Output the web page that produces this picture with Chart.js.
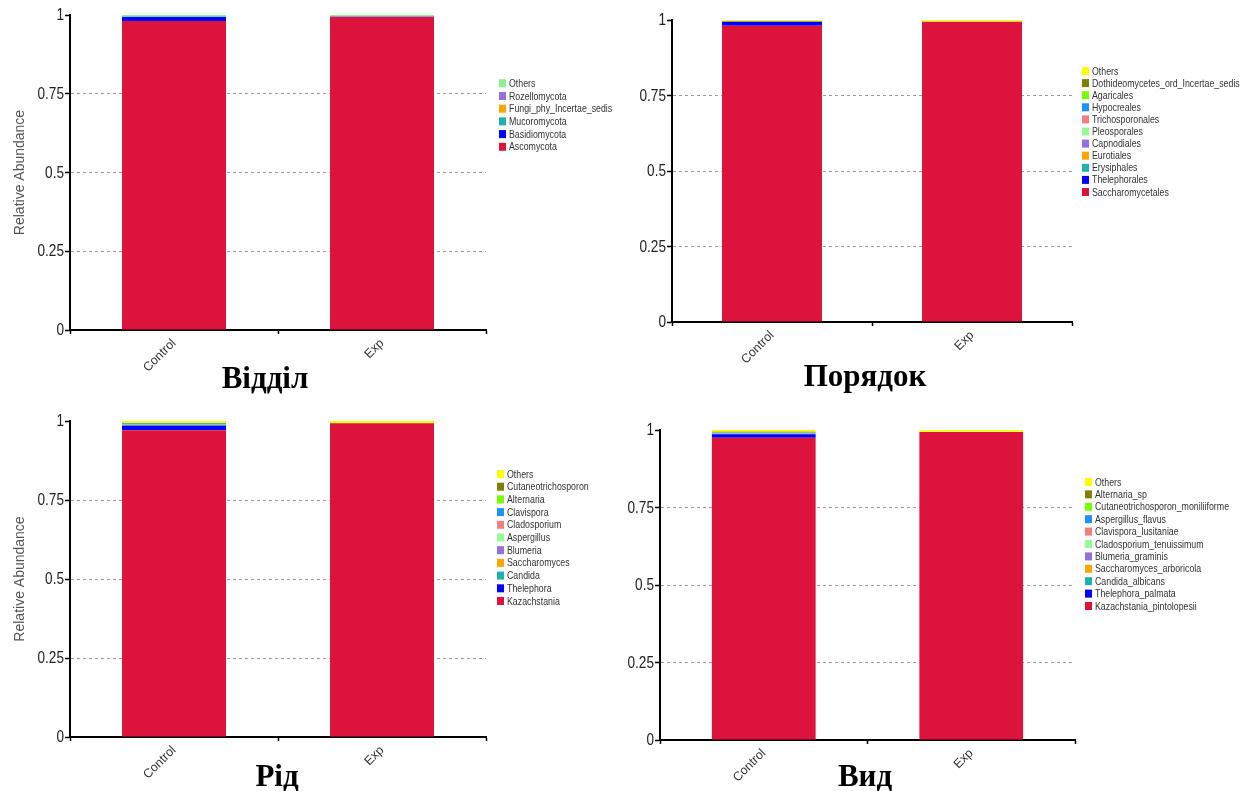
<!DOCTYPE html>
<html><head><meta charset="utf-8">
<script src="https://cdn.jsdelivr.net/npm/chart.js@4.4.0/dist/chart.umd.min.js"></script>
<style>
html,body{margin:0;padding:0;background:#fff;}
#wrap{position:relative;width:1240px;height:791px;overflow:hidden;background:#fff;}
canvas{position:absolute;}
.ttl{position:absolute;font-family:"Liberation Serif","Times New Roman",serif;font-weight:bold;font-size:31px;line-height:32px;color:#000;white-space:nowrap;transform:translateX(-50%);}
</style></head><body>
<div id="wrap">
<canvas id="c1" width="620" height="395" style="left:0;top:0"></canvas>
<canvas id="c2" width="620" height="395" style="left:620px;top:0"></canvas>
<canvas id="c3" width="620" height="391" style="left:0;top:400px"></canvas>
<canvas id="c4" width="620" height="391" style="left:620px;top:400px"></canvas>
<div class="ttl" style="left:265px;top:362px">Відділ</div>
<div class="ttl" style="left:865px;top:360px">Порядок</div>
<div class="ttl" style="left:277px;top:760px">Рід</div>
<div class="ttl" style="left:865px;top:760px">Вид</div>
</div>
<script>
// ---------- DATA ----------
const categories = ['Control', 'Exp'];
const yTickLabels = ['0', '0.25', '0.5', '0.75', '1'];

// Відділ (phylum) — bottom to top of stack
const phylumNames = ['Ascomycota', 'Basidiomycota', 'Mucoromycota', 'Fungi_phy_Incertae_sedis', 'Rozellomycota', 'Others'];
const phylumControl = [0.981, 0.013, 0.001, 0.0003, 0.0002, 0.0045];
const phylumExp = [0.994, 0.0005, 0.0002, 0.0001, 0.0001, 0.0051];
const phylumColors = ['#DC143C', '#0000FF', '#20B2AA', '#FFA500', '#9370DB', '#90EE90'];

// Порядок (order)
const orderNames = ['Saccharomycetales', 'Thelephorales', 'Erysiphales', 'Eurotiales', 'Capnodiales', 'Pleosporales', 'Trichosporonales', 'Hypocreales', 'Agaricales', 'Dothideomycetes_ord_Incertae_sedis', 'Others'];
const orderControl = [0.981, 0.013, 0.0003, 0.0002, 0.0002, 0.0002, 0.0002, 0.0002, 0.0001, 0.0001, 0.0045];
const orderExp = [0.994, 0.0003, 0.0001, 0.0001, 0.0001, 0.0001, 0.0001, 0.0001, 0.0001, 0.0001, 0.0049];
const orderColors = ['#DC143C', '#0000FF', '#20B2AA', '#FFA500', '#9370DB', '#98FB98', '#F08080', '#1E90FF', '#7CFC00', '#808000', '#FFFF00'];

// Рід (genus)
const genusNames = ['Kazachstania', 'Thelephora', 'Candida', 'Saccharomyces', 'Blumeria', 'Aspergillus', 'Cladosporium', 'Clavispora', 'Alternaria', 'Cutaneotrichosporon', 'Others'];
const genusControl = [0.971, 0.014, 0.003, 0.001, 0.0005, 0.0005, 0.0005, 0.002, 0.0005, 0.0005, 0.0065];
const genusExp = [0.9925, 0.0001, 0.0001, 0.0001, 0.0001, 0.0001, 0.0001, 0.0001, 0.0001, 0.0001, 0.0066];
const genusColors = ['#DC143C', '#0000FF', '#20B2AA', '#FFA500', '#9370DB', '#98FB98', '#F08080', '#1E90FF', '#7CFC00', '#808000', '#FFFF00'];

// Вид (species)
const speciesNames = ['Kazachstania_pintolopesii', 'Thelephora_palmata', 'Candida_albicans', 'Saccharomyces_arboricola', 'Blumeria_graminis', 'Cladosporium_tenuissimum', 'Clavispora_lusitaniae', 'Aspergillus_flavus', 'Cutaneotrichosporon_moniliiforme', 'Alternaria_sp', 'Others'];
const speciesControl = [0.975, 0.011, 0.003, 0.001, 0.0003, 0.0003, 0.0004, 0.002, 0.0005, 0.0005, 0.006];
const speciesExp = [0.9935, 0.0001, 0.0001, 0.0001, 0.0001, 0.0001, 0.0001, 0.0001, 0.0001, 0.0001, 0.0056];
const speciesColors = ['#DC143C', '#0000FF', '#20B2AA', '#FFA500', '#9370DB', '#98FB98', '#F08080', '#1E90FF', '#7CFC00', '#808000', '#FFFF00'];

// ---------- DRAWING ----------
const SANS = '"Liberation Sans", Arial, sans-serif';

// condensed text helper (mimics Arial Narrow)
function narrowText(ctx, txt, x, y, sx) {
  ctx.save();
  ctx.translate(x, y);
  ctx.scale(sx, 1);
  ctx.fillText(txt, 0, 0);
  ctx.restore();
}

const sideLegend = {
  id: 'sideLegend',
  afterDraw(chart, args, o) {
    const ctx = chart.ctx;
    const ds = chart.data.datasets;
    ctx.save();
    ctx.font = '11px ' + SANS;
    ctx.textBaseline = 'middle';
    ctx.textAlign = 'left';
    for (let k = 0; k < ds.length; k++) {
      const d = ds[ds.length - 1 - k];
      const y = o.y + k * o.gap;
      ctx.fillStyle = d.backgroundColor;
      ctx.fillRect(o.x, y - 4, 7, 8);
      ctx.fillStyle = '#333';
      narrowText(ctx, d.label, o.x + 10, y + 0.5, 0.8);
    }
    // y tick labels (condensed), placed through the y scale
    const ys = chart.scales.y;
    ctx.font = '17px ' + SANS;
    ctx.textAlign = 'right';
    ctx.textBaseline = 'middle';
    ctx.fillStyle = '#222';
    ys.ticks.forEach(t => {
      const py = ys.getPixelForValue(t.value);
      narrowText(ctx, yTickLabels[Math.round(t.value / 0.25)], ys.right - 6, py + 0.5, 0.8);
    });
    ctx.restore();
  }
};

function makeChart(id, names, colors, control, exp, g) {
  const datasets = names.map((n, i) => ({
    label: n,
    data: [control[i], exp[i]],
    backgroundColor: colors[i],
    borderWidth: 0,
    barPercentage: 0.5,
    categoryPercentage: 1
  }));
  return new Chart(document.getElementById(id), {
    type: 'bar',
    data: { labels: categories, datasets },
    plugins: [sideLegend],
    options: {
      responsive: false,
      animation: false,
      devicePixelRatio: 1,
      layout: { padding: { left: 0, top: g.top, right: g.W - g.right, bottom: 0 } },
      plugins: {
        legend: { display: false },
        tooltip: { enabled: false },
        sideLegend: { x: g.lx, y: g.ly, gap: g.gap }
      },
      scales: {
        x: {
          stacked: true,
          offset: true,
          grid: { display: true, drawOnChartArea: false, drawTicks: true, tickLength: 4, tickColor: '#000', tickWidth: 1.5, offset: true },
          border: { display: true, color: '#000', width: 2 },
          ticks: { minRotation: 45, maxRotation: 45, autoSkip: false, color: '#333', padding: 2, font: { size: 12.5, family: SANS } },
          afterFit: s => { s.height = g.H - g.bottom; }
        },
        y: {
          stacked: true,
          min: 0, max: 1,
          ticks: { stepSize: 0.25, display: false },
          grid: {
            color: c => (c.tick && (c.tick.value === 0 || c.tick.value === 1)) ? 'rgba(0,0,0,0)' : '#9a9a9a',
            lineWidth: 1,
            tickColor: '#000',
            tickLength: 5,
            tickWidth: 1.5,
            tickBorderDash: []
          },
          border: { display: true, color: '#000', width: 2, dash: [3, 3] },
          title: { display: g.yTitle, text: 'Relative Abundance', color: '#555', padding: { top: 12, bottom: 0 }, font: { size: 14, family: SANS } },
          afterFit: s => { s.width = g.left; }
        }
      }
    }
  });
}

makeChart('c1', phylumNames, phylumColors, phylumControl, phylumExp,
  { W: 620, H: 395, left: 70, top: 15, right: 486, bottom: 330, lx: 499, ly: 83.3, gap: 12.7, yTitle: true });
makeChart('c2', orderNames, orderColors, orderControl, orderExp,
  { W: 620, H: 395, left: 52, top: 20, right: 452, bottom: 322, lx: 462, ly: 71, gap: 12.1, yTitle: false });
makeChart('c3', genusNames, genusColors, genusControl, genusExp,
  { W: 620, H: 391, left: 70, top: 21, right: 486, bottom: 337, lx: 497, ly: 74, gap: 12.7, yTitle: true });
makeChart('c4', speciesNames, speciesColors, speciesControl, speciesExp,
  { W: 620, H: 391, left: 40, top: 30, right: 455, bottom: 340, lx: 465, ly: 82, gap: 12.4, yTitle: false });
</script>
</body></html>
